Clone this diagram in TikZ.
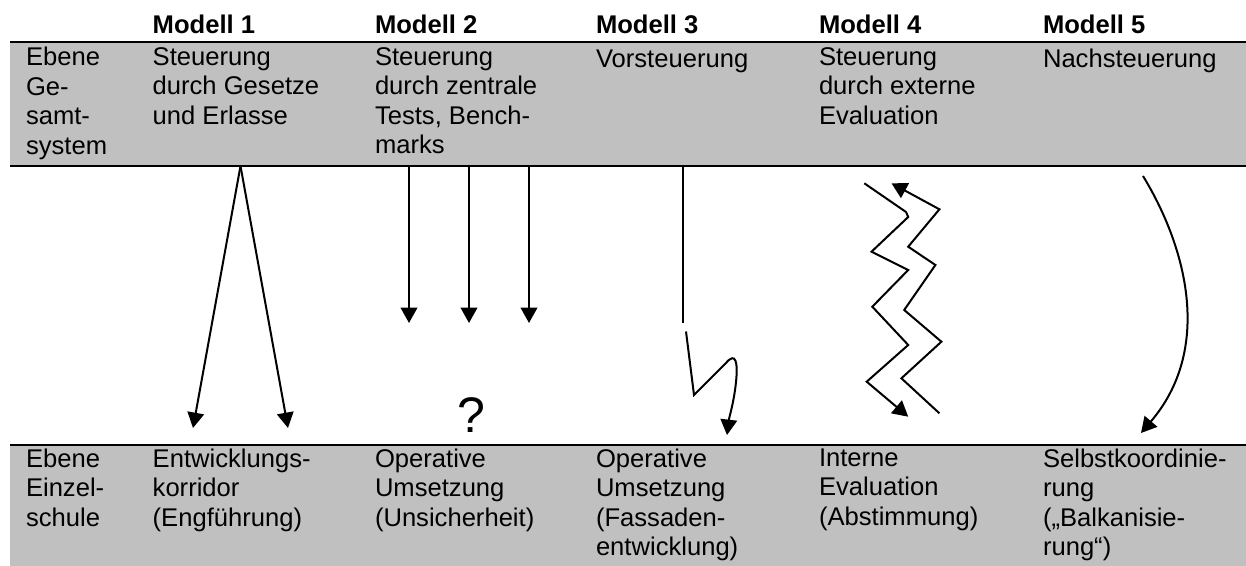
\documentclass[tikz,border=0pt]{standalone}
\usepackage{fontspec}
\setmainfont{Liberation Sans}
\usetikzlibrary{arrows.meta}
\definecolor{band}{HTML}{C0C0C0}
\begin{document}
\begin{tikzpicture}[x=0.5pt,y=-0.5pt,
  txt/.style={anchor=north west, inner sep=0pt, outer sep=0pt, align=left,
              font=\fontsize{12.8}{14.75}\selectfont,
              execute at begin node={\strut}},
  hdr/.style={anchor=base west, inner sep=0pt, outer sep=0pt,
              font=\fontsize{12.8}{14.75}\selectfont\bfseries},
  rule/.style={line width=1.4pt},
  ln/.style={line width=1pt},
  arr/.style={line width=1pt, -{Triangle[length=7.7pt,width=8.3pt]}}]
\useasboundingbox (0,0) rectangle (1246,566);
% bands
\fill[band] (10,42) rectangle (1246,166);
\fill[band] (10,445) rectangle (1246,566);
\draw[rule] (10,42) -- (1246,42);
\draw[rule] (10,166) -- (1246,166);
\draw[rule] (10,445) -- (1246,445);
% headers
\node[hdr] (h1) at (152.7,33.3) {Modell 1};
\node[hdr] (h2) at (375,33.3) {Modell 2};
\node[hdr] (h3) at (596,33.3) {Modell 3};
\node[hdr] (h4) at (819,33.3) {Modell 4};
\node[hdr] (h5) at (1043,33.3) {Modell 5};
% top row (first baseline at y=68)
\node[txt] (t0) at (26,47.35) {Ebene\\Ge-\\samt-\\system};
\node[txt] (t1) at (152.7,47.35) {Steuerung\\durch Gesetze\\und Erlasse};
\node[txt] (t2) at (375,47.35) {Steuerung\\durch zentrale\\Tests, Bench-\\marks};
\node[txt] (t3) at (596,47.35) {Vorsteuerung};
\node[txt] (t4) at (819,47.35) {Steuerung\\durch externe\\Evaluation};
\node[txt] (t5) at (1043,47.35) {Nachsteuerung};
% bottom row (first baseline at y=469.3)
\node[txt] (b0) at (26,448.65) {Ebene\\Einzel-\\schule};
\node[txt] (b1) at (152.7,448.65) {Entwicklungs-\\korridor\\(Engführung)};
\node[txt] (b2) at (375,448.65) {Operative\\Umsetzung\\(Unsicherheit)};
\node[txt] (b3) at (596,448.65) {Operative\\Umsetzung\\(Fassaden-\\entwicklung)};
\node[txt] (b4) at (819,448.65) {Interne\\Evaluation\\(Abstimmung)};
\node[txt] (b5) at (1043,448.65) {Selbstkoordinie-\\rung\\(„Balkanisie-\\rung“)};
% question mark
\node[anchor=base, inner sep=0pt, font=\fontsize{25}{30}\selectfont] (q) at (471.7,432) {?};
% Modell 1
\coordinate (m1a) at (240.5,166);
\coordinate (m1l) at (193,428);
\coordinate (m1r) at (288,428);
\draw[arr] (m1a) -- (m1l);
\draw[arr] (m1a) -- (m1r);
% Modell 2
\foreach \x/\n in {409/a,469/b,529/c}{
  \coordinate (m2s\n) at (\x,166);
  \coordinate (m2e\n) at (\x,323);
  \draw[arr] (m2s\n) -- (m2e\n);
}
% Modell 3
\coordinate (m3a) at (683,166);
\coordinate (m3b) at (683,323.5);
\coordinate (m3c) at (686,331.5);
\coordinate (m3d) at (694,395);
\coordinate (m3e) at (726,363);
\coordinate (m3f) at (727,435);
\draw[ln] (m3a) -- (m3b);
\draw[arr] (m3c) -- (m3d) -- (m3e) .. controls (736,351) and (738,363) .. (736,382)
  .. controls (734,402) and (729,418) .. (m3f);
% Modell 4
\coordinate (m4ls) at (864.3,183.3);
\coordinate (m4le) at (908.2,416.7);
\draw[arr] (m4ls) -- (906,212) -- (908.2,217) -- (871.5,251.7) -- (908.2,270)
  -- (872.3,306.7) -- (908.2,345) -- (866.7,381.7) -- (m4le);
\coordinate (m4rs) at (939.4,413.3);
\coordinate (m4re) at (891.5,183.3);
\draw[arr] (m4rs) -- (901.4,378.3) -- (941.4,341.7) -- (904.2,310) -- (935.4,265)
  -- (908.2,246.7) -- (939.4,209.3) -- (m4re);
% Modell 5
\coordinate (m5s) at (1143,176);
\coordinate (m5e) at (1141,433);
\draw[arr] (m5s) .. controls (1188,250) and (1212,350) .. (m5e);
\end{tikzpicture}
\end{document}
